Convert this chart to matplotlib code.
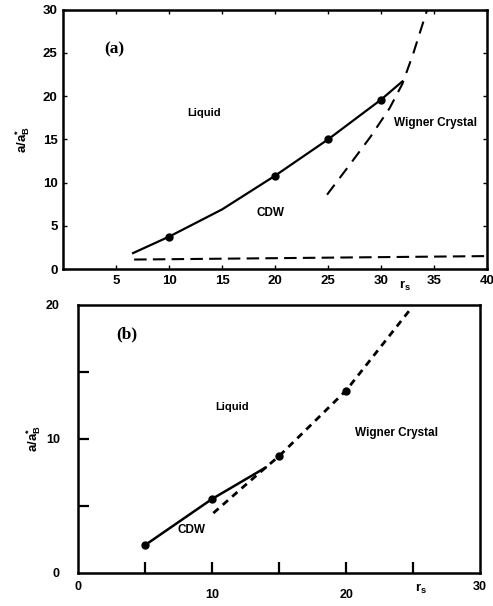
import matplotlib
matplotlib.use("Agg")
import matplotlib.pyplot as plt

plt.rcParams['font.family'] = ['Liberation Sans', 'DejaVu Sans']
plt.rcParams['mathtext.fontset'] = 'custom'
plt.rcParams['mathtext.rm'] = 'Liberation Sans:bold'
plt.rcParams['mathtext.it'] = 'Liberation Sans:bold'
plt.rcParams['mathtext.bf'] = 'Liberation Sans:bold'

# panel (a): phase boundaries
a_cdw_rs = [6.6, 10, 15, 20, 25, 30, 32.0]
a_cdw_y = [1.85, 3.75, 6.9, 10.8, 15.0, 19.6, 21.7]
a_pts_rs = [10, 20, 25, 30]
a_pts_y = [3.75, 10.8, 15.0, 19.6]
a_wig_rs = [24.9, 27.0, 29.0, 30.8, 32.0, 33.0, 34.4]
a_wig_y = [8.6, 12.0, 15.3, 18.6, 21.4, 24.8, 30.2]
a_low_rs = [6.7, 40]
a_low_y = [1.1, 1.5]

# panel (b)
b_cdw_rs = [5, 10, 14.0]
b_cdw_y = [2.05, 5.5, 7.85]
b_wig_rs = [10.1, 12.1, 14.0, 15, 20, 24.9]
b_wig_y = [4.45, 6.2, 7.85, 8.7, 13.6, 19.8]
b_pts_rs = [5, 10, 15, 20]
b_pts_y = [2.05, 5.5, 8.7, 13.6]

fig = plt.figure(figsize=(4.93, 6.06), dpi=100)
ax1 = fig.add_axes([0.128, 0.556, 0.860, 0.428])
ax2 = fig.add_axes([0.158, 0.055, 0.816, 0.442])

bold = dict(fontweight='bold')

# ---- (a)
ax1.plot(a_cdw_rs, a_cdw_y, color='black', lw=1.6)
ax1.plot(a_pts_rs, a_pts_y, 'o', color='black', ms=5)
ax1.plot(a_wig_rs, a_wig_y, color='black', lw=1.5, dashes=(6, 4))
ax1.plot(a_low_rs, a_low_y, color='black', lw=1.5, dashes=(6, 3))
ax1.set_xlim(0, 40)
ax1.set_ylim(0, 30)
ax1.set_xticks([5, 10, 15, 20, 25, 30, 35, 40])
ax1.set_yticks([0, 5, 10, 15, 20, 25, 30])
ax1.tick_params(direction='in', length=3, width=1, top=True, right=True,
                labelsize=9.5, pad=4)
for lab in ax1.get_xticklabels() + ax1.get_yticklabels():
    lab.set_fontweight('bold')
for s in ax1.spines.values():
    s.set_linewidth(1.8)
ax1.set_ylabel(r'a/a$^{*}_{B}$', fontsize=9.5, labelpad=8, **bold)
ax1.annotate(r'r$_{s}$', xy=(32.3, 0), xycoords=('data', 'axes fraction'),
             xytext=(0, -7), textcoords='offset points', ha='center', va='top',
             fontsize=9.5, **bold)
ax1.text(4.8, 25.4, '(a)', family='Liberation Serif', fontsize=12.5,
         ha='center', va='center', **bold)
ax1.text(13.3, 18.1, 'Liquid', fontsize=8, ha='center', va='center', **bold)
ax1.text(35.1, 16.9, 'Wigner Crystal', fontsize=8.5, ha='center', va='center', **bold)
ax1.text(19.6, 6.5, 'CDW', fontsize=8.5, ha='center', va='center', **bold)

# ---- (b)
ax2.plot(b_cdw_rs, b_cdw_y, color='black', lw=1.8)
ax2.plot(b_wig_rs, b_wig_y, color='black', lw=2.0, dashes=(2.5, 2))
ax2.plot(b_pts_rs, b_pts_y, 'o', color='black', ms=5)
ax2.set_xlim(0, 30)
ax2.set_ylim(0, 20)
ax2.set_xticks([5, 10, 15, 20, 25])
ax2.set_xticklabels(['', '10', '', '20', ''])
ax2.set_xticks([0, 30], minor=True)
ax2.set_xticklabels(['0', '30'], minor=True)
ax2.set_yticks([5, 10, 15])
ax2.set_yticklabels(['', '10', ''])
ax2.set_yticks([0, 20], minor=True)
ax2.set_yticklabels(['0', '20'], minor=True)
ax2.tick_params(which='major', direction='in', length=8, width=1.6,
                labelsize=9, pad=12)
ax2.tick_params(which='minor', length=0, labelsize=9, pad=6)
ax2.tick_params(axis='y', which='major', pad=13)
ax2.tick_params(axis='y', which='minor', pad=13)
for lab in (ax2.get_xticklabels() + ax2.get_yticklabels()
            + ax2.get_xticklabels(minor=True) + ax2.get_yticklabels(minor=True)):
    lab.set_fontweight('bold')
for s in ax2.spines.values():
    s.set_linewidth(1.8)
ax2.set_ylabel(r'a/a$^{*}_{B}$', fontsize=9.5, labelpad=2, **bold)
ax2.annotate(r'r$_{s}$', xy=(25.6, 0), xycoords=('data', 'axes fraction'),
             xytext=(0, -7), textcoords='offset points', ha='center', va='top',
             fontsize=9.5, **bold)
ax2.text(3.65, 17.8, '(b)', family='Liberation Serif', fontsize=12.5,
         ha='center', va='center', **bold)
ax2.text(11.5, 12.4, 'Liquid', fontsize=8, ha='center', va='center', **bold)
ax2.text(23.75, 10.4, 'Wigner Crystal', fontsize=8.5, ha='center', va='center', **bold)
ax2.text(8.5, 3.2, 'CDW', fontsize=8.5, ha='center', va='center', **bold)

fig.savefig('out.png', dpi=100)
